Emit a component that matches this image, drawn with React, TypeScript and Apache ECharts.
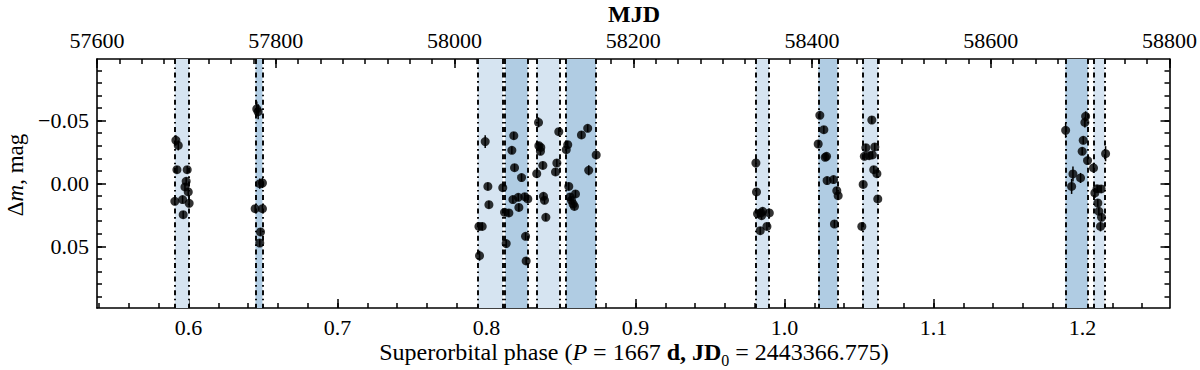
import React, { useEffect, useRef } from "react";
import * as echarts from "echarts";

// ---- axis ranges ----
const PH_MIN = 0.53855;
const PH_MAX = 1.2584;
const MJD_MIN = 57600;
const MJD_MAX = 58800;
const DM_MIN = -0.099;
const DM_MAX = 0.099;

// ---- tick labels ----
const phaseTicks = [0.6, 0.7, 0.8, 0.9, 1.0, 1.1, 1.2];
const mjdTicks = [57600, 57800, 58000, 58200, 58400, 58600, 58800];
const dmTicks = [-0.05, 0, 0.05];

// ---- shaded intervals (superorbital phase) ----
const bandStart = [0.5908, 0.6449, 0.7941, 0.8125, 0.8337, 0.8534, 0.9807, 1.0227, 1.0522, 1.1885, 1.2074];
const bandEnd = [0.6004, 0.6496, 0.8109, 0.8276, 0.8489, 0.8735, 0.9896, 1.0356, 1.0627, 1.2036, 1.2148];
const bandShade = ["light", "dark", "light", "dark", "light", "dark", "light", "dark", "light", "dark", "light"];

// ---- photometry: season A ----
const phaseA = [0.5915, 0.5931, 0.5922, 0.5991, 0.5984, 0.5976, 0.5998, 0.5908, 0.596, 0.6004, 0.5964];
const dmA = [-0.0343, -0.0303, -0.011, -0.011, -0.0017, 0.0027, 0.0067, 0.0142, 0.0128, 0.0158, 0.0248];
const errA = [0.004, 0.004, 0.003, 0.003, 0.003, 0.003, 0.003, 0.003, 0.003, 0.003, 0.003];

// ---- season B ----
const phaseB = [0.6458, 0.6467, 0.6478, 0.6496, 0.6447, 0.6496, 0.6483, 0.6478];
const dmB = [-0.0593, -0.0571, 0.0001, -0.0004, 0.02, 0.02, 0.0385, 0.0473];
const errB = [0.006, 0.006, 0.004, 0.004, 0.003, 0.003, 0.003, 0.003];

// ---- season C ----
const phaseC = [
  0.8349, 0.8485, 0.8679, 0.8637, 0.8183, 0.7991, 0.8351, 0.8364, 0.8362, 0.817,
  0.8545, 0.8535, 0.8736, 0.8472, 0.8378, 0.8188, 0.8686, 0.8463, 0.8337, 0.8235,
  0.8009, 0.8109, 0.8552, 0.8597, 0.8382, 0.8389, 0.8213, 0.8257, 0.8277, 0.8177,
  0.8561, 0.857, 0.8581, 0.859, 0.8016, 0.8217, 0.8121, 0.815, 0.8398, 0.7949,
  0.7971, 0.8262, 0.8132, 0.7953, 0.8266,
];
const dmC = [
  -0.0486, -0.0412, -0.0439, -0.0386, -0.038, -0.0333, -0.0301, -0.0287, -0.0256, -0.0264,
  -0.0309, -0.0269, -0.0227, -0.0163, -0.0144, -0.0126, -0.0105, -0.0092, -0.0078, -0.0047,
  0.0023, 0.0033, 0.0023, 0.0083, 0.0102, 0.0134, 0.011, 0.0105, 0.0123, 0.0128,
  0.0107, 0.0134, 0.0163, 0.0182, 0.0168, 0.019, 0.0229, 0.0234, 0.0269, 0.0341,
  0.0341, 0.042, 0.0478, 0.0574, 0.0616,
];
const errC = [
  0.004, 0.003, 0.003, 0.003, 0.003, 0.005, 0.003, 0.003, 0.003, 0.003,
  0.003, 0.003, 0.003, 0.003, 0.003, 0.003, 0.004, 0.003, 0.003, 0.003,
  0.003, 0.003, 0.003, 0.003, 0.003, 0.003, 0.003, 0.003, 0.003, 0.003,
  0.003, 0.003, 0.003, 0.003, 0.003, 0.003, 0.003, 0.003, 0.003, 0.003,
  0.003, 0.003, 0.003, 0.004, 0.003,
];

// ---- season D ----
const phaseD = [
  0.9808, 0.9812, 0.9819, 0.9842, 0.9853, 0.9846, 0.9898, 0.9837, 0.9882,
  1.0237, 1.0264, 1.0226, 1.0273, 1.0282, 1.0286, 1.0329, 1.0351, 1.036, 1.0335,
  1.0586, 1.0546, 1.0606, 1.0536, 1.0568, 1.059, 1.0599, 1.062, 1.0528, 1.0626, 1.0519,
];
const dmD = [
  -0.0163, 0.0067, 0.024, 0.0234, 0.0221, 0.0256, 0.0234, 0.0375, 0.0341,
  -0.0542, -0.0428, -0.0314, -0.0208, -0.0216, -0.0023, -0.0031, 0.0057, 0.0097, 0.0322,
  -0.0505, -0.0285, -0.0291, -0.0216, -0.0221, -0.0227, -0.011, -0.0078, 0.0007, 0.0123, 0.0341,
];
const errD = [
  0.003, 0.003, 0.003, 0.003, 0.003, 0.003, 0.003, 0.003, 0.003,
  0.003, 0.003, 0.003, 0.003, 0.003, 0.003, 0.003, 0.003, 0.003, 0.003,
  0.003, 0.003, 0.003, 0.003, 0.003, 0.003, 0.003, 0.003, 0.003, 0.003, 0.003,
];

// ---- season E ----
const phaseE = [
  1.1887, 1.2021, 1.2016, 1.2005, 1.1998, 1.2034, 1.2074, 1.2155, 1.1936,
  1.1987, 1.1927, 1.2098, 1.2125, 1.2083, 1.2103, 1.211, 1.2128, 1.2121,
];
const dmE = [
  -0.0423, -0.0534, -0.0486, -0.0343, -0.0256, -0.0182, -0.0124, -0.0237, -0.0076,
  -0.0044, 0.0023, 0.0041, 0.0043, 0.0075, 0.0155, 0.0221, 0.0269, 0.0341,
];
const errE = [
  0.006, 0.004, 0.004, 0.003, 0.003, 0.003, 0.004, 0.006, 0.006,
  0.004, 0.006, 0.003, 0.003, 0.004, 0.003, 0.003, 0.003, 0.004,
];

const FONT = '"Liberation Serif", "DejaVu Serif", serif';
const LIGHT = "#d6e4f1";
const DARK = "#b0cce3";

const minorRange = (a: number, b: number, step: number, n: number) => {
  const out: number[] = [];
  for (let i = 0; i <= n; i++) {
    const v = +(a + i * step).toFixed(6);
    if (v <= b) out.push(v);
  }
  return out;
};

export default function App() {
  const ref = useRef<HTMLDivElement>(null);

  useEffect(() => {
    if (!ref.current) return;
    const chart = echarts.init(ref.current, undefined, { renderer: "svg" });

    const phases = [...phaseA, ...phaseB, ...phaseC, ...phaseD, ...phaseE];
    const dms = [...dmA, ...dmB, ...dmC, ...dmD, ...dmE];
    const errs = [...errA, ...errB, ...errC, ...errD, ...errE];
    const pts = phases.map((p, i) => [p, dms[i], errs[i]]);

    const phaseMinor = minorRange(0.54, PH_MAX, 0.02, 40);
    const mjdMinor = minorRange(MJD_MIN, MJD_MAX, 25, 48);
    const dmMinor = minorRange(-0.09, 0.09, 0.01, 18);

    const axisLineStyle = { color: "#000", width: 1.6 };
    const tickStyle = { color: "#000", width: 1.5 };
    const labelBase = { color: "#000", fontFamily: FONT, fontSize: 22 };

    const markAreaData = bandStart.map((s, i) => [
      { xAxis: s, itemStyle: { color: bandShade[i] === "dark" ? DARK : LIGHT } },
      { xAxis: bandEnd[i] },
    ]);
    const markLineData: any[] = [];
    bandStart.forEach((s, i) => {
      markLineData.push({ xAxis: s });
      markLineData.push({ xAxis: bandEnd[i] });
    });

    const fmtDm = (v: number) => {
      const s = Math.abs(v).toFixed(2);
      return v < -1e-9 ? "\u2212" + s : s;
    };

    const xBase = (pos: string, min: number, max: number) => ({
      type: "value",
      position: pos,
      min,
      max,
      splitLine: { show: false },
    });
    const yBase = (pos: string) => ({
      type: "value",
      position: pos,
      inverse: true,
      min: DM_MIN,
      max: DM_MAX,
      splitLine: { show: false },
    });

    chart.setOption({
      animation: false,
      grid: { left: 97, right: 29, top: 59, bottom: 62, containLabel: false },
      xAxis: [
        {
          ...xBase("bottom", PH_MIN, PH_MAX),
          axisLine: { show: true, onZero: false, lineStyle: axisLineStyle },
          axisTick: { show: true, inside: true, length: 9, customValues: phaseTicks, lineStyle: tickStyle },
          axisLabel: { ...labelBase, customValues: phaseTicks, margin: 8, formatter: (v: number) => v.toFixed(1) },
        },
        {
          ...xBase("bottom", PH_MIN, PH_MAX),
          axisLine: { show: false, onZero: false },
          axisTick: { show: true, inside: true, length: 5, customValues: phaseMinor, lineStyle: tickStyle },
          axisLabel: { show: false },
        },
        {
          ...xBase("top", MJD_MIN, MJD_MAX),
          axisLine: { show: true, onZero: false, lineStyle: axisLineStyle },
          axisTick: { show: true, inside: true, length: 9, customValues: mjdTicks, lineStyle: tickStyle },
          axisLabel: { ...labelBase, customValues: mjdTicks, margin: 8, formatter: (v: number) => String(v) },
        },
        {
          ...xBase("top", MJD_MIN, MJD_MAX),
          axisLine: { show: false, onZero: false },
          axisTick: { show: true, inside: true, length: 5, customValues: mjdMinor, lineStyle: tickStyle },
          axisLabel: { show: false },
        },
      ],
      yAxis: [
        {
          ...yBase("left"),
          axisLine: { show: true, onZero: false, lineStyle: axisLineStyle },
          axisTick: { show: true, inside: true, length: 9, customValues: dmTicks, lineStyle: tickStyle },
          axisLabel: { ...labelBase, customValues: dmTicks, margin: 8, formatter: fmtDm },
        },
        {
          ...yBase("left"),
          axisLine: { show: false, onZero: false },
          axisTick: { show: true, inside: true, length: 5, customValues: dmMinor, lineStyle: tickStyle },
          axisLabel: { show: false },
        },
        {
          ...yBase("right"),
          axisLine: { show: true, onZero: false, lineStyle: axisLineStyle },
          axisTick: { show: true, inside: true, length: 9, customValues: dmTicks, lineStyle: tickStyle },
          axisLabel: { show: false },
        },
        {
          ...yBase("right"),
          axisLine: { show: false, onZero: false },
          axisTick: { show: true, inside: true, length: 5, customValues: dmMinor, lineStyle: tickStyle },
          axisLabel: { show: false },
        },
      ],
      series: [
        {
          type: "custom",
          xAxisIndex: 0,
          yAxisIndex: 0,
          z: 2,
          silent: true,
          data: pts,
          encode: { x: 0, y: 1 },
          renderItem: (params: any, api: any) => {
            const x = api.value(0);
            const y = api.value(1);
            const e = api.value(2);
            const p1 = api.coord([x, y - e]);
            const p2 = api.coord([x, y + e]);
            return {
              type: "line",
              shape: { x1: p1[0], y1: p1[1], x2: p2[0], y2: p2[1] },
              style: { stroke: "#000", lineWidth: 1.5 },
            };
          },
          markArea: { silent: true, data: markAreaData },
          markLine: {
            silent: true,
            precision: 6,
            symbol: ["none", "none"],
            label: { show: false },
            lineStyle: { color: "#000", width: 1.9, type: [5, 3.5, 1.6, 3.5] },
            data: markLineData,
          },
        },
        {
          type: "scatter",
          xAxisIndex: 0,
          yAxisIndex: 0,
          z: 3,
          symbol: "circle",
          symbolSize: 9,
          itemStyle: { color: "#000" },
          data: pts.map((p) => [p[0], p[1]]),
        },
      ],
      graphic: [
        {
          type: "text",
          x: 634,
          y: 14,
          style: {
            text: "MJD",
            font: `bold 24px ${FONT}`,
            fill: "#000",
            align: "center",
            verticalAlign: "middle",
          },
        },
        {
          type: "text",
          x: 634,
          y: 352,
          style: {
            text: "{r|Superorbital phase (}{i|P}{r| = 1667 }{b|d, JD}{s|0}{r| = 2443366.775)}",
            align: "center",
            verticalAlign: "middle",
            fill: "#000",
            rich: {
              r: { fontFamily: FONT, fontSize: 24, lineHeight: 32, fill: "#000" },
              i: { fontFamily: FONT, fontSize: 24, lineHeight: 32, fontStyle: "italic", fill: "#000" },
              b: { fontFamily: FONT, fontSize: 24, lineHeight: 32, fontWeight: "bold", fill: "#000" },
              s: { fontFamily: FONT, fontSize: 16, lineHeight: 16, verticalAlign: "bottom", fill: "#000" },
            },
          },
        },
        {
          type: "text",
          x: 15,
          y: 175,
          rotation: Math.PI / 2,
          style: {
            text: "{r|\u0394}{i|m}{r|, mag}",
            align: "center",
            verticalAlign: "middle",
            fill: "#000",
            rich: {
              r: { fontFamily: FONT, fontSize: 23, fill: "#000" },
              i: { fontFamily: FONT, fontSize: 23, fontStyle: "italic", fill: "#000" },
            },
          },
        },
      ],
    });

    return () => chart.dispose();
  }, []);

  return (
    <div
      ref={ref}
      style={{ position: "fixed", left: 0, top: 0, width: 1200, height: 370, background: "#fff" }}
    />
  );
}
